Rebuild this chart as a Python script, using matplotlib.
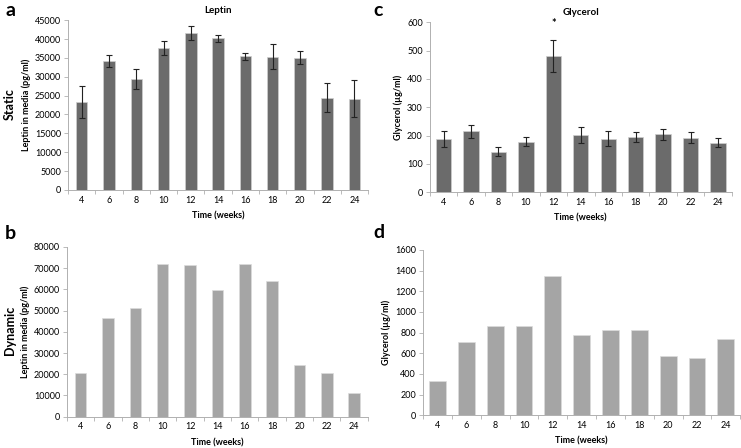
import matplotlib
matplotlib.use('Agg')
import matplotlib.pyplot as plt
import numpy as np

plt.rcParams['font.family'] = ['Lato', 'DejaVu Sans']

weeks = [4, 6, 8, 10, 12, 14, 16, 18, 20, 22, 24]

# a: static leptin (pg/ml)
leptin_static = [23300, 34200, 29500, 37600, 41600, 40200, 35400, 35300, 35000, 24500, 24200]
leptin_static_err = [4300, 1650, 2650, 1950, 1950, 970, 1000, 3300, 1700, 3900, 4900]

# b: dynamic leptin (pg/ml)
leptin_dynamic = [20400, 46600, 51100, 72000, 71500, 59900, 72000, 64000, 24300, 20400, 11000]

# c: static glycerol (ug/ml)
glycerol_static = [188, 216, 143, 179, 481, 202, 189, 195, 204, 193, 175]
glycerol_static_err = [27, 23, 15, 17, 56, 29, 26, 18, 21, 18, 16]

# d: dynamic glycerol (ug/ml)
glycerol_dynamic = [332, 713, 868, 868, 1352, 777, 823, 826, 577, 555, 735]

dark = '#6b6b6b'
light = '#a5a5a5'
axcol = '#b0b0b0'
fs = 6.5

fig = plt.figure(figsize=(7.41, 4.48), dpi=100)


def style(ax, ylim, step, ylabel):
    x = np.arange(len(weeks))
    ax.set_xlim(-0.5, len(weeks) - 0.5)
    ax.set_ylim(0, ylim)
    ax.set_yticks(np.arange(0, ylim + 1, step))
    ax.set_xticks(x)
    ax.set_xticklabels(weeks)
    ax.set_xticks(np.arange(-0.5, len(weeks), 1), minor=True)
    ax.tick_params(axis='x', which='major', length=0, labelsize=fs, pad=4)
    ax.tick_params(axis='x', which='minor', length=3, color=axcol, width=0.6)
    ax.tick_params(axis='y', length=3, color=axcol, width=0.6, labelsize=fs, pad=2)
    for s in ['top', 'right']:
        ax.spines[s].set_visible(False)
    for s in ['left', 'bottom']:
        ax.spines[s].set_color(axcol)
        ax.spines[s].set_linewidth(0.7)
    ax.set_ylabel(ylabel, fontsize=fs, fontweight='bold', labelpad=3)
    ax.set_xlabel('Time (weeks)', fontsize=fs, fontweight='bold', labelpad=5)
    return x


# a
ax_a = fig.add_axes([0.0918, 0.576, 0.405, 0.379])
x = style(ax_a, 45000, 5000, 'Leptin in media (pg/ml)')
ax_a.bar(x, leptin_static, width=0.42, color=dark, edgecolor='#cfcfcf', linewidth=0.5,
         yerr=leptin_static_err, error_kw=dict(ecolor='#222222', elinewidth=0.8, capsize=2, capthick=0.8))
ax_a.set_title('Leptin', fontsize=7, fontweight='bold', pad=5)

# b
ax_b = fig.add_axes([0.0904, 0.0699, 0.406, 0.379])
x = style(ax_b, 80000, 10000, 'Leptin in media (pg/ml)')
ax_b.bar(x, leptin_dynamic, width=0.42, color=light, edgecolor='#dcdcdc', linewidth=0.5)

# c
ax_c = fig.add_axes([0.580, 0.571, 0.4076, 0.379])
x = style(ax_c, 600, 100, 'Glycerol (\u00b5g/ml)')
ax_c.bar(x, glycerol_static, width=0.56, color=dark, edgecolor='#cfcfcf', linewidth=0.5,
         yerr=glycerol_static_err, error_kw=dict(ecolor='#222222', elinewidth=0.8, capsize=2, capthick=0.8))
ax_c.text(4, glycerol_static[4] + glycerol_static_err[4] + 40, '*', ha='center', va='bottom',
          fontsize=8, fontweight='bold')
ax_c.set_title('Glycerol', fontsize=7, fontweight='bold', pad=5)

# d
ax_d = fig.add_axes([0.571, 0.0730, 0.428, 0.369])
x = style(ax_d, 1600, 200, 'Glycerol (\u00b5g/ml)')
ax_d.bar(x, glycerol_dynamic, width=0.58, color=light, edgecolor='#dcdcdc', linewidth=0.5)

# panel letters and row labels
fig.text(5 / 741, 1 - 10 / 448, 'a', fontsize=14, fontweight='bold', va='center', ha='left')
fig.text(5 / 741, 1 - 233 / 448, 'b', fontsize=14, fontweight='bold', va='center', ha='left')
fig.text(373 / 741, 1 - 10 / 448, 'c', fontsize=14, fontweight='bold', va='center', ha='left')
fig.text(373 / 741, 1 - 232 / 448, 'd', fontsize=14, fontweight='bold', va='center', ha='left')
fig.text(10 / 741, 1 - 104 / 448, 'Static', fontsize=9, fontweight='bold', rotation=90,
         va='center', ha='center')
fig.text(10 / 741, 1 - 330 / 448, 'Dynamic', fontsize=9, fontweight='bold', rotation=90,
         va='center', ha='center')

fig.savefig('out.png', dpi=100)
